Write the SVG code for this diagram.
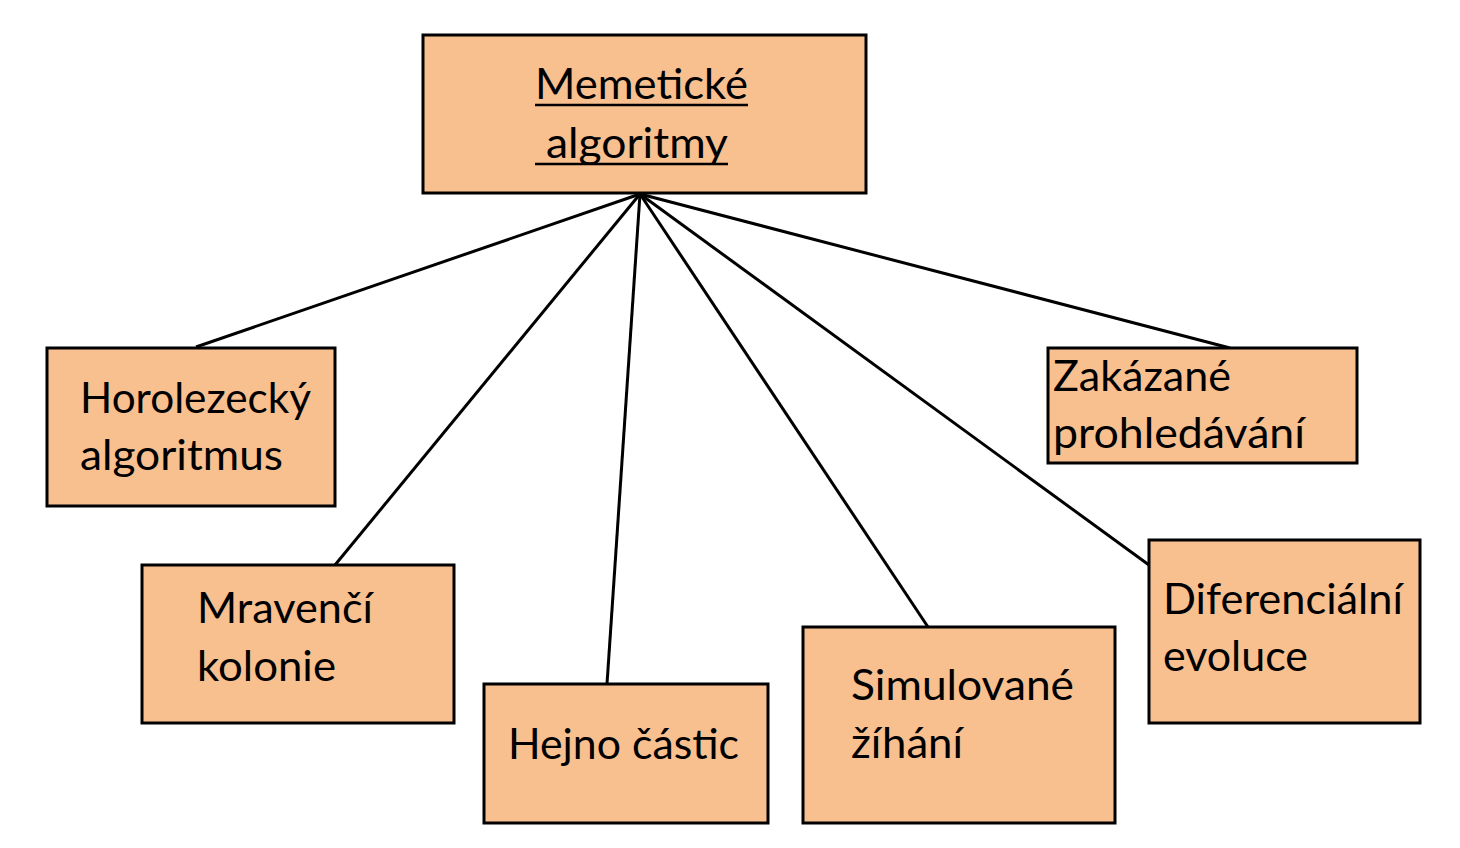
<svg xmlns="http://www.w3.org/2000/svg" width="1460" height="848" viewBox="0 0 1460 848">
<style>
.box{fill:#F8BF8F;stroke:#000;stroke-width:3}
.t{font-family:Lato,"Liberation Sans",sans-serif;font-size:43px;fill:#000}
.c{stroke:#000;stroke-width:3;fill:none}
.u{stroke:#000;stroke-width:2.5}
</style>
<rect width="1460" height="848" fill="#fff"/>
<g id="connectors">
<line class="c" x1="640" y1="194" x2="196" y2="347"/>
<line class="c" x1="640" y1="194" x2="335" y2="565"/>
<line class="c" x1="640" y1="194" x2="607" y2="684"/>
<line class="c" x1="640" y1="194" x2="928" y2="627"/>
<line class="c" x1="640" y1="194" x2="1149" y2="565"/>
<line class="c" x1="640" y1="194" x2="1230" y2="348"/>
</g>
<g id="memeticke">
<rect class="box" x="423" y="35" width="443" height="158"/>
<text class="t" x="535" y="99" textLength="213" lengthAdjust="spacingAndGlyphs">Memetické</text>
<line class="u" x1="535" y1="105" x2="748" y2="105"/>
<text class="t" x="546" y="158" textLength="182" lengthAdjust="spacingAndGlyphs">algoritmy</text>
<line class="u" x1="535" y1="164" x2="728" y2="164"/>
</g>
<g id="horolezecky">
<rect class="box" x="47" y="348" width="288" height="158"/>
<text class="t" x="80" y="413" textLength="231" lengthAdjust="spacingAndGlyphs">Horolezecký</text>
<text class="t" x="80" y="470" textLength="203" lengthAdjust="spacingAndGlyphs">algoritmus</text>
</g>
<g id="zakazane">
<rect class="box" x="1048" y="348" width="309" height="115"/>
<text class="t" x="1053" y="391" textLength="178" lengthAdjust="spacingAndGlyphs">Zakázané</text>
<text class="t" x="1053" y="448" textLength="252" lengthAdjust="spacingAndGlyphs">prohledávání</text>
</g>
<g id="mravenci">
<rect class="box" x="142" y="565" width="312" height="158"/>
<text class="t" x="197" y="623" textLength="176" lengthAdjust="spacingAndGlyphs">Mravenčí</text>
<text class="t" x="197" y="681" textLength="139" lengthAdjust="spacingAndGlyphs">kolonie</text>
</g>
<g id="hejno">
<rect class="box" x="484" y="684" width="284" height="139"/>
<text class="t" x="508" y="759" textLength="231" lengthAdjust="spacingAndGlyphs">Hejno částic</text>
</g>
<g id="simulovane">
<rect class="box" x="803" y="627" width="312" height="196"/>
<text class="t" x="851" y="700" textLength="223" lengthAdjust="spacingAndGlyphs">Simulované</text>
<text class="t" x="851" y="758" textLength="112" lengthAdjust="spacingAndGlyphs">žíhání</text>
</g>
<g id="diferencialni">
<rect class="box" x="1149" y="540" width="271" height="183"/>
<text class="t" x="1163" y="614" textLength="240" lengthAdjust="spacingAndGlyphs">Diferenciální</text>
<text class="t" x="1163" y="671" textLength="145" lengthAdjust="spacingAndGlyphs">evoluce</text>
</g>
</svg>
